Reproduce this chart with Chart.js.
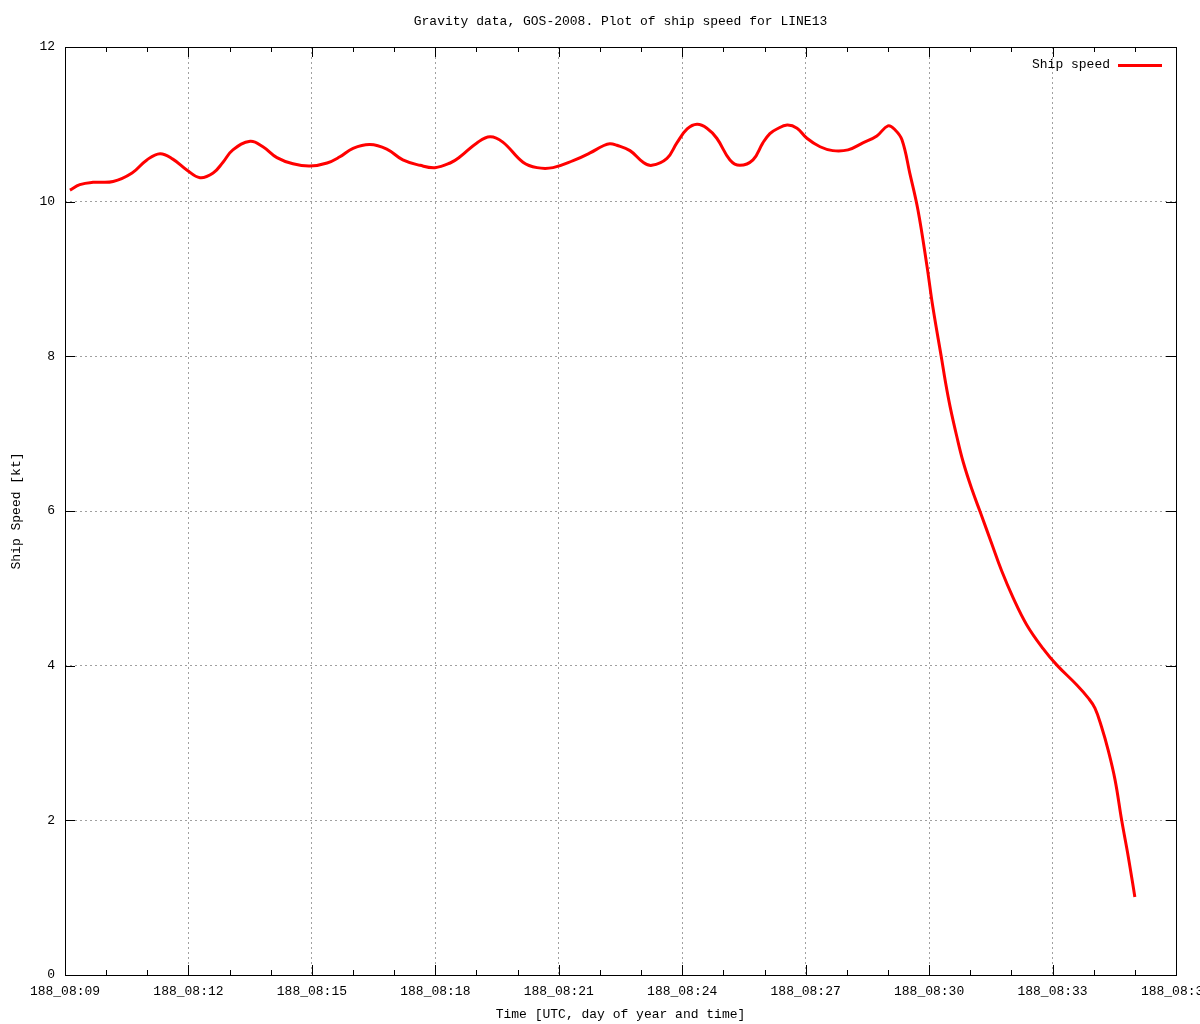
<!DOCTYPE html>
<html>
<head>
<meta charset="utf-8">
<script src="https://cdn.jsdelivr.net/npm/chart.js@4/dist/chart.umd.min.js"></script>
<style>
  html, body { margin: 0; padding: 0; background: #ffffff; }
  #wrap { width: 1200px; height: 1024px; }
</style>
</head>
<body>
<div id="wrap"><canvas id="c" width="1200" height="1024"></canvas></div>
<script>
// Time in minutes after 08:00 UTC on day 188
const minutes = [
  9.12, 9.36, 9.68, 10.17, 10.63, 10.99, 11.31, 11.62, 11.96, 12.28,
  12.60, 12.84, 13.08, 13.50, 13.81, 14.15, 14.54, 14.95, 15.37, 15.68,
  16.00, 16.41, 16.82, 17.21, 17.63, 17.99, 18.36, 18.60, 19.01, 19.33,
  19.64, 20.13, 20.47, 20.86, 21.35, 21.76, 22.07, 22.24, 22.41, 22.73,
  23.05, 23.26, 23.63, 23.87, 24.12, 24.36, 24.60, 24.84, 25.16, 25.40,
  25.72, 25.96, 26.13, 26.30, 26.55, 26.79, 27.03, 27.35, 27.66, 28.03,
  28.39, 28.73, 29.00, 29.17, 29.34, 29.53, 29.73, 29.95, 30.09, 30.31,
  30.39, 30.51, 30.67, 30.83, 31.04, 31.24, 31.52, 31.76, 32.04, 32.37,
  32.77, 33.10, 33.59, 33.87, 34.03, 34.19, 34.35, 34.52, 34.68, 34.84,
  35.00
];
// Ship speed in knots
const speed = [
  10.15, 10.22, 10.25, 10.26, 10.37, 10.54, 10.62, 10.55, 10.41, 10.31,
  10.37, 10.51, 10.67, 10.78, 10.71, 10.57, 10.49, 10.46, 10.50, 10.58,
  10.69, 10.74, 10.68, 10.54, 10.47, 10.44, 10.50, 10.58, 10.76, 10.84,
  10.77, 10.51, 10.44, 10.44, 10.53, 10.63, 10.72, 10.75, 10.73, 10.66,
  10.51, 10.47, 10.56, 10.76, 10.94, 11.00, 10.95, 10.82, 10.54, 10.47,
  10.54, 10.76, 10.88, 10.94, 10.99, 10.95, 10.82, 10.71, 10.66, 10.67,
  10.76, 10.85, 10.98, 10.93, 10.80, 10.37, 9.89, 9.16, 8.64, 7.95,
  7.69, 7.35, 6.97, 6.63, 6.28, 5.99, 5.58, 5.23, 4.88, 4.53,
  4.22, 4.01, 3.75, 3.58, 3.45, 3.21, 2.91, 2.52, 2.00, 1.53,
  1.01
];
const seriesLabel = 'Ship speed';
const dayOfYear = '188';
const hourLabel = '08';
const xMin = 9, xMax = 36, xStep = 1, xMajorEvery = 3;
const yMin = 0, yMax = 12, yStep = 2;

const FONT = 'Liberation Mono, DejaVu Sans Mono, monospace';
const pad2 = n => (n < 10 ? '0' : '') + n;

const framePlugin = {
  id: 'frame',
  afterDraw(chart) {
    const ctx = chart.ctx;
    const a = chart.chartArea;
    const xs = chart.scales.x, ys = chart.scales.y;
    ctx.save();
    ctx.strokeStyle = '#000000';
    ctx.lineWidth = 1;
    // inward ticks, x (bottom + top), y (left + right)
    ctx.beginPath();
    xs.ticks.forEach(t => {
      const px = Math.round(xs.getPixelForValue(t.value)) + 0.5;
      const len = (Math.round(t.value) % xMajorEvery === 0) ? 10 : 5;
      ctx.moveTo(px, a.bottom); ctx.lineTo(px, a.bottom - len);
      ctx.moveTo(px, a.top); ctx.lineTo(px, a.top + len);
    });
    ys.ticks.forEach(t => {
      const py = Math.round(ys.getPixelForValue(t.value)) + 0.5;
      ctx.moveTo(a.left, py); ctx.lineTo(a.left + 10, py);
      ctx.moveTo(a.right, py); ctx.lineTo(a.right - 10, py);
    });
    ctx.stroke();
    // border box
    ctx.strokeRect(Math.round(a.left) + 0.5, Math.round(a.top) + 0.5,
                   Math.round(a.right - a.left), Math.round(a.bottom - a.top));
    // legend (text then sample, top right)
    const ds = chart.data.datasets[0];
    ctx.font = '13px ' + FONT;
    ctx.fillStyle = '#000000';
    ctx.textAlign = 'right';
    ctx.textBaseline = 'middle';
    ctx.fillText(ds.label, a.right - 66, a.top + 18);
    ctx.strokeStyle = ds.borderColor;
    ctx.lineWidth = 3;
    ctx.beginPath();
    ctx.moveTo(a.right - 58, a.top + 18.5);
    ctx.lineTo(a.right - 14, a.top + 18.5);
    ctx.stroke();
    ctx.restore();
  }
};

new Chart(document.getElementById('c'), {
  type: 'line',
  data: {
    datasets: [{
      label: seriesLabel,
      data: minutes.map((m, i) => ({ x: m, y: speed[i] })),
      borderColor: '#ff0000',
      backgroundColor: '#ff0000',
      borderWidth: 3,
      pointRadius: 0,
      fill: false,
      tension: 0.4
    }]
  },
  options: {
    responsive: false,
    animation: false,
    events: [],
    layout: { padding: { left: 0, right: 24, top: 0, bottom: 0 } },
    plugins: {
      legend: { display: false },
      tooltip: { enabled: false },
      title: {
        display: true,
        fullSize: false,
        text: 'Gravity data, GOS-2008. Plot of ship speed for LINE13',
        color: '#000000',
        font: { family: FONT, size: 13, weight: 'normal', lineHeight: '16px' },
        padding: { top: 14, bottom: 17 }
      }
    },
    scales: {
      x: {
        type: 'linear',
        min: xMin, max: xMax,
        border: { display: false, dash: [2, 3] },
        grid: {
          drawTicks: false,
          lineWidth: 1,
          color: c => (Math.round(c.tick.value) % xMajorEvery === 0) ? '#a0a0a0' : 'rgba(0,0,0,0)'
        },
        ticks: {
          stepSize: xStep,
          autoSkip: false,
          maxRotation: 0,
          padding: 9,
          color: '#000000',
          font: { family: FONT, size: 13 },
          callback: v => (Math.round(v) % xMajorEvery === 0) ? (dayOfYear + '_' + hourLabel + ':' + pad2(Math.round(v))) : ''
        },
        title: {
          display: true,
          text: 'Time [UTC, day of year and time]',
          color: '#000000',
          font: { family: FONT, size: 13 },
          padding: { top: 0, bottom: 2 }
        },
        afterFit: s => { s.height = 49; s.paddingLeft = 0; s.paddingRight = 0; }
      },
      y: {
        min: yMin, max: yMax,
        border: { display: false, dash: [2, 3] },
        grid: { drawTicks: false, lineWidth: 1, color: '#a0a0a0' },
        ticks: {
          stepSize: yStep,
          padding: 10,
          color: '#000000',
          font: { family: FONT, size: 13 }
        },
        title: {
          display: true,
          text: 'Ship Speed [kt]',
          color: '#000000',
          font: { family: FONT, size: 13 },
          padding: { top: 9, bottom: 0 }
        },
        afterFit: s => { s.width = 65; s.paddingTop = 0; s.paddingBottom = 0; }
      }
    }
  },
  plugins: [framePlugin]
});
</script>
</body>
</html>
